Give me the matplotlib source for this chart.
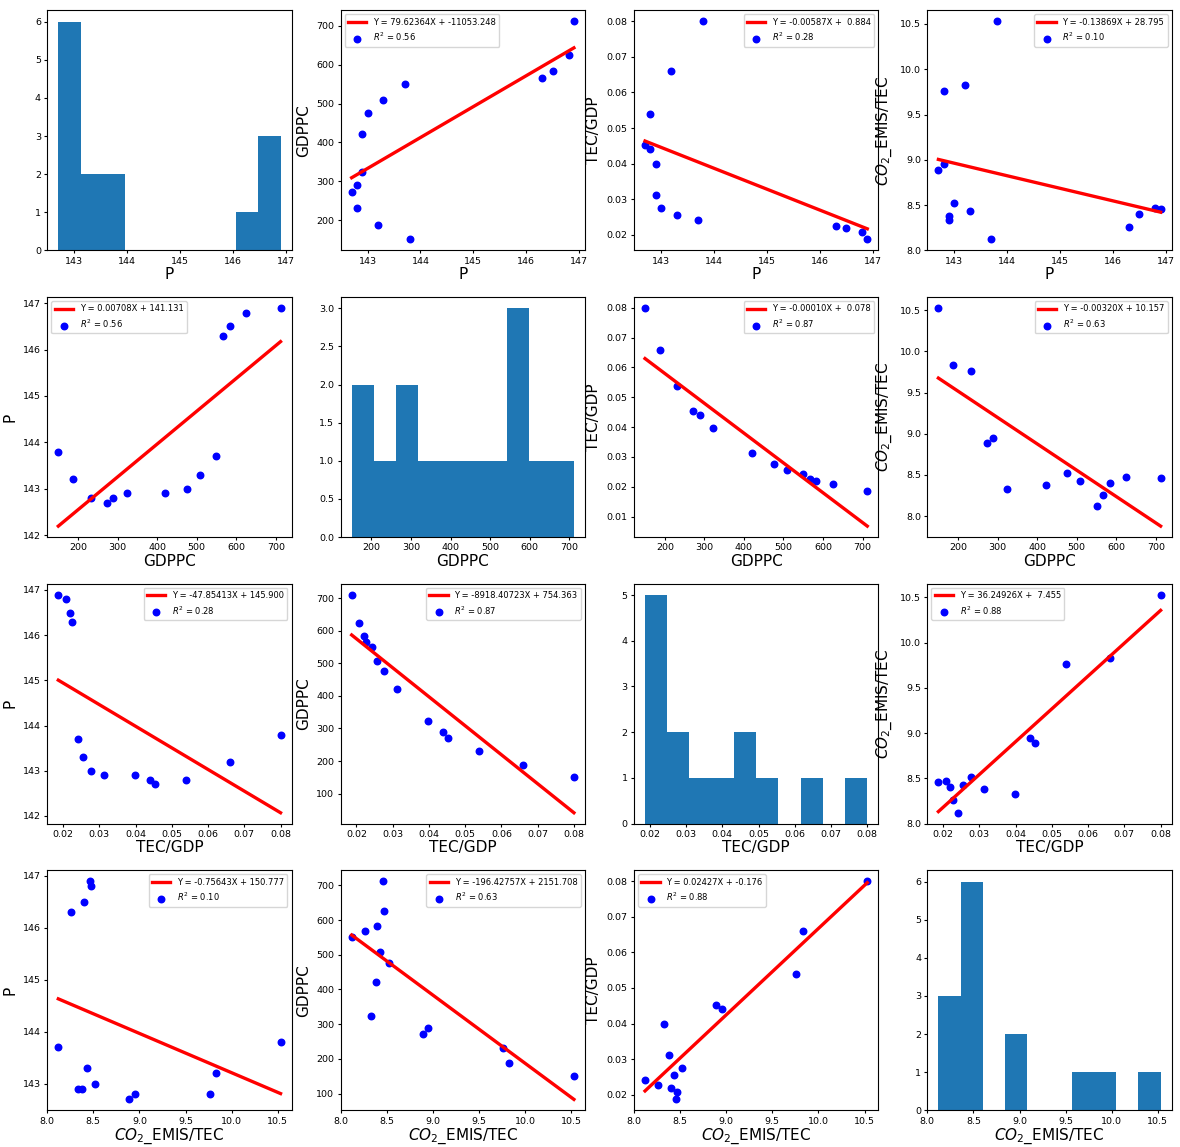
import matplotlib
matplotlib.use('Agg')
import matplotlib.pyplot as plt
import numpy as np

P = [143.8, 143.2, 142.8, 142.7, 142.8, 142.9, 142.9, 143.0, 143.3, 143.7, 146.3, 146.5, 146.8, 146.9]
GDPPC = [150, 188, 232, 272, 289, 323, 421, 476, 508, 550, 567, 583, 625, 712]
TEC_GDP = [0.0800, 0.0660, 0.0539, 0.0453, 0.0440, 0.0398, 0.0313, 0.0276, 0.0256, 0.0242,
           0.0226, 0.0220, 0.0208, 0.0187]
CO2_TEC = [10.53, 9.83, 9.76, 8.89, 8.95, 8.33, 8.38, 8.52, 8.43, 8.12, 8.26, 8.40, 8.47, 8.46]

names = ['P', 'GDPPC', 'TEC/GDP', '$CO_2$_EMIS/TEC']
cols = [P, GDPPC, TEC_GDP, CO2_TEC]

# fitted coefficients shown in the legends: first index = x variable, second = y variable
slopes = [[None, 79.62364, -0.00587, -0.13869],
          [0.00708, None, -0.00010, -0.00320],
          [-47.85413, -8918.40723, None, 36.24926],
          [-0.75643, -196.42757, 0.02427, None]]
intercepts = [[None, -11053.248, 0.884, 28.795],
              [141.131, None, 0.078, 10.157],
              [145.900, 754.363, None, 7.455],
              [150.777, 2151.708, -0.176, None]]
r2 = [[None, 0.56, 0.28, 0.10],
      [0.56, None, 0.87, 0.63],
      [0.28, 0.87, None, 0.88],
      [0.10, 0.63, 0.88, None]]

leg_loc = [[None, 'upper left', 'upper right', 'upper right'],
           ['upper left', None, 'upper right', 'upper right'],
           ['upper right', 'upper right', None, 'upper left'],
           ['upper right', 'upper right', 'upper left', None]]

fig, axes = plt.subplots(4, 4, figsize=(11.8, 11.47), dpi=100)
plt.subplots_adjust(left=0.04, right=0.993, bottom=0.032, top=0.991, wspace=0.2, hspace=0.194)

for i in range(4):
    for j in range(4):
        ax = axes[i, j]
        x = np.array(cols[i])
        if i == j:
            ax.hist(x, bins=10, color='#1f77b4')
        else:
            y = np.array(cols[j])
            a = slopes[i][j]
            b = intercepts[i][j]
            xl = np.array([x.min(), x.max()])
            ax.plot(xl, a * xl + b, color='red', lw=2.4,
                    label='Y = {:.5f}X + {:6.3f}'.format(a, b))
            ax.scatter(x, y, color='blue', s=22, label='$R^2$ = {:.2f}'.format(r2[i][j]))
            ax.legend(loc=leg_loc[i][j], fontsize=6, handlelength=2.2)
            ax.set_ylabel(names[j], fontsize=11)
        ax.set_xlabel(names[i], fontsize=11, labelpad=1)
        ax.tick_params(labelsize=6.8, length=2.5, pad=2)

plt.savefig('out.png', dpi=100)
